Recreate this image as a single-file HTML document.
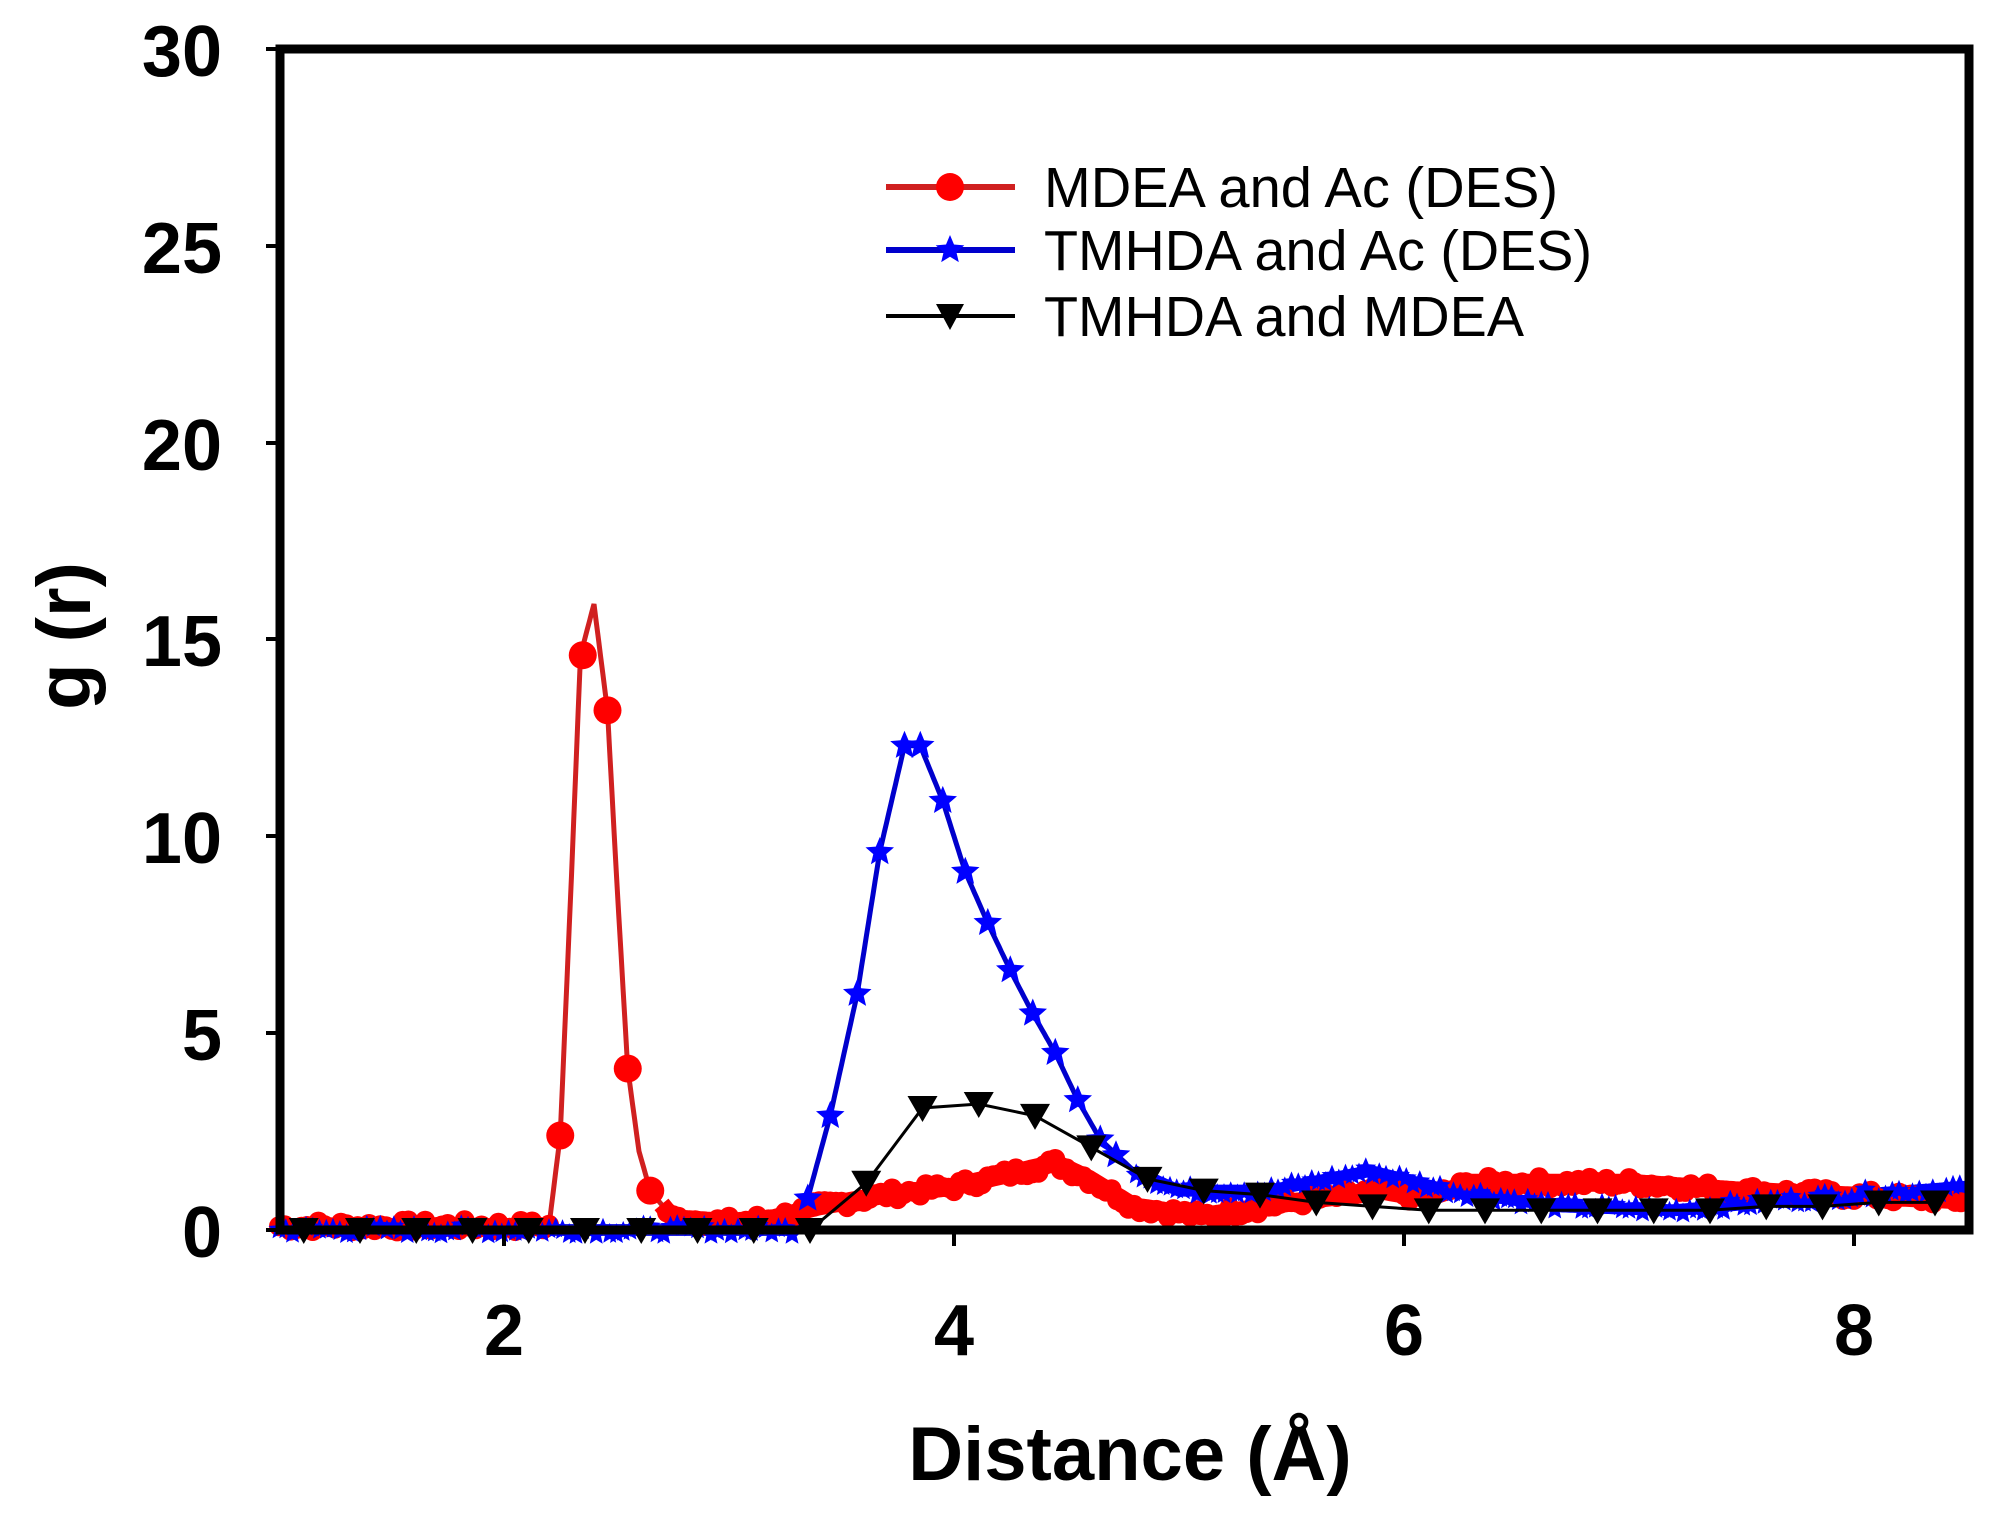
<!DOCTYPE html>
<html><head><meta charset="utf-8">
<style>
html,body{margin:0;padding:0;background:#fff;}
svg{display:block;}
text{font-family:"Liberation Sans",Arial,sans-serif;}
</style></head>
<body>
<svg id="s" width="1990" height="1517" viewBox="0 0 1990 1517" xmlns="http://www.w3.org/2000/svg">
<rect width="1990" height="1517" fill="#fff"/>
<g id="data"></g>
<rect x="280" y="49" width="1689" height="1181" fill="none" stroke="#000" stroke-width="9"/>
<g stroke="#000" stroke-width="4">
<line x1="266" y1="1230" x2="280" y2="1230"/><line x1="266" y1="1033" x2="280" y2="1033"/>
<line x1="266" y1="836" x2="280" y2="836"/><line x1="266" y1="639" x2="280" y2="639"/>
<line x1="266" y1="443" x2="280" y2="443"/><line x1="266" y1="246" x2="280" y2="246"/>
<line x1="266" y1="49" x2="280" y2="49"/>
<line x1="504" y1="1230" x2="504" y2="1246"/><line x1="954" y1="1230" x2="954" y2="1246"/>
<line x1="1404" y1="1230" x2="1404" y2="1246"/><line x1="1854" y1="1230" x2="1854" y2="1246"/>
</g>
<g font-size="72" font-weight="bold" text-anchor="end" fill="#000">
<text x="222" y="1257">0</text><text x="222" y="1060">5</text><text x="222" y="863">10</text>
<text x="222" y="666">15</text><text x="222" y="470">20</text><text x="222" y="273">25</text>
<text x="222" y="76">30</text>
</g>
<g font-size="72" font-weight="bold" text-anchor="middle" fill="#000">
<text x="504" y="1355">2</text><text x="954" y="1355">4</text><text x="1404" y="1355">6</text><text x="1854" y="1355">8</text>
</g>
<text x="1130" y="1480" font-size="76" font-weight="bold" text-anchor="middle">Distance (Å)</text>
<text transform="translate(90,636) rotate(-90)" font-size="76" font-weight="bold" text-anchor="middle">g (r)</text>
<g font-size="57">
<line x1="886" y1="187" x2="1015" y2="187" stroke="#d02020" stroke-width="6"/>
<circle cx="950" cy="187" r="14" fill="#ff0000"/>
<text x="1044" y="207" textLength="514" lengthAdjust="spacingAndGlyphs">MDEA and Ac (DES)</text>
<line x1="886" y1="250" x2="1015" y2="250" stroke="#0000cc" stroke-width="6"/>
<polygon id="legstar" fill="#0000ff"/>
<text x="1044" y="270" textLength="548" lengthAdjust="spacingAndGlyphs">TMHDA and Ac (DES)</text>
<line x1="886" y1="316" x2="1015" y2="316" stroke="#000" stroke-width="4"/>
<polygon points="936,304 964,304 950,330" fill="#000"/>
<text x="1044" y="336" textLength="480" lengthAdjust="spacingAndGlyphs">TMHDA and MDEA</text>
</g>
</svg>
<script>
function X(x){return 504+(x-2)*225;}
function Y(y){return 1230-y*39.37;}
function interp(pts,x){for(var i=0;i<pts.length-1;i++){if(x>=pts[i][0]&&x<=pts[i+1][0]){var t=(x-pts[i][0])/(pts[i+1][0]-pts[i][0]);return pts[i][1]+t*(pts[i+1][1]-pts[i][1]);}}return pts[pts.length-1][1];}
function star(cx,cy,r){var p=[];for(var i=0;i<10;i++){var a=-Math.PI/2+i*Math.PI/5;var rr=i%2?r*0.45:r;p.push((cx+rr*Math.cos(a)).toFixed(1)+","+(cy+rr*Math.sin(a)).toFixed(1));}return p.join(" ");}
var seed=7;function rnd(){seed=(seed*9301+49297)%233280;return seed/233280;}
var g=document.getElementById('data');var ns="http://www.w3.org/2000/svg";
function el(n,a){var e=document.createElementNS(ns,n);for(var k in a)e.setAttribute(k,a[k]);g.appendChild(e);return e;}
document.getElementById('legstar').setAttribute('points',star(950,250,15));
var red=[[1.0,0.1],[2.2,0.1],[2.25,2.4],[2.30,9.0],[2.34,14.6],[2.40,15.9],[2.46,13.2],[2.50,9.0],[2.55,4.1],[2.60,2.0],[2.65,1.0],[2.75,0.3],[3.0,0.2],[3.2,0.3],[3.4,0.6],[3.7,0.9],[4.0,1.1],[4.3,1.5],[4.45,1.7],[4.6,1.3],[4.8,0.6],[5.1,0.35],[5.5,0.7],[5.9,1.0],[6.1,0.8],[6.3,1.2],[7.0,1.2],[7.5,1.0],[8.5,0.75]];
var blue=[[1.0,0],[3.3,0],[3.35,0.8],[3.45,2.9],[3.57,6.0],[3.67,9.6],[3.78,12.3],[3.85,12.3],[3.95,10.9],[4.05,9.1],[4.15,7.8],[4.25,6.6],[4.35,5.5],[4.45,4.5],[4.55,3.3],[4.65,2.3],[4.8,1.5],[5.0,1.0],[5.4,1.0],[5.85,1.5],[6.2,1.0],[6.7,0.6],[7.2,0.5],[7.8,0.8],[8.5,1.1]];
function pts(arr,a,b){var p=[];for(var x=a;x<=b+1e-9;x+=0.01){p.push(X(x).toFixed(1)+","+Y(interp(arr,x)).toFixed(1));}return p.join(" ");}
// red thick band (outside peak)
el('polyline',{points:pts(red,1.0,2.2),fill:"none",stroke:"#ff0000","stroke-width":16});
el('polyline',{points:pts(red,2.7,8.5),fill:"none",stroke:"#ff0000","stroke-width":18});
el('polyline',{points:pts(red,1.0,8.5),fill:"none",stroke:"#d02020","stroke-width":5});
// blue thin line
el('polyline',{points:pts(blue,1.0,8.5),fill:"none",stroke:"#0000cc","stroke-width":5});
el('polyline',{points:pts(blue,4.8,8.5),fill:"none",stroke:"#0000ff","stroke-width":12});
el('polyline',{points:pts(blue,1.0,3.3),fill:"none",stroke:"#2020dd","stroke-width":12});
for(var x=1.0;x<=8.5;x+=0.025){if(x>2.2&&x<2.7)continue;var v=interp(red,x)+(rnd()-0.5)*0.3;el('circle',{cx:X(x).toFixed(1),cy:Y(v).toFixed(1),r:10,fill:"#ff0000"});}
[[2.25,2.4],[2.35,14.6],[2.46,13.2],[2.55,4.1],[2.65,1.0]].forEach(function(p){el('circle',{cx:X(p[0]),cy:Y(p[1]),r:14,fill:"#ff0000"});});
for(var x=1.0;x<=8.5;x+=0.03){if(x>3.3&&x<4.8)continue;var v=interp(blue,x)+(rnd()-0.5)*0.25;el('polygon',{points:star(X(x),Y(v),11),fill:"#0000ff"});}
[[3.35,0.8],[3.45,2.9],[3.57,6.0],[3.67,9.6],[3.78,12.3],[3.85,12.3],[3.95,10.9],[4.05,9.1],[4.15,7.8],[4.25,6.6],[4.35,5.5],[4.45,4.5],[4.55,3.3],[4.65,2.3],[4.72,1.9]].forEach(function(p){el('polygon',{points:star(X(p[0]),Y(p[1]),15),fill:"#0000ff"});});
var bk=[];var vals=[0,0,0,0,0,0,0,0,0,0,1.2,3.1,3.2,2.9,2.1,1.3,1.0,0.9,0.7,0.6,0.5,0.5,0.5,0.5,0.5,0.5,0.6,0.6,0.7,0.7];
for(var i=0;i<vals.length;i++){bk.push([1.11+i*0.25,vals[i]]);}
el('polyline',{points:bk.map(function(p){return X(p[0]).toFixed(1)+","+Y(p[1]).toFixed(1);}).join(" "),fill:"none",stroke:"#000","stroke-width":3});
bk.forEach(function(p){var cx=X(p[0]),cy=Y(p[1]);el('polygon',{points:(cx-15)+","+(cy-12)+" "+(cx+15)+","+(cy-12)+" "+cx+","+(cy+14),fill:"#000"});});
</script>
</body></html>
